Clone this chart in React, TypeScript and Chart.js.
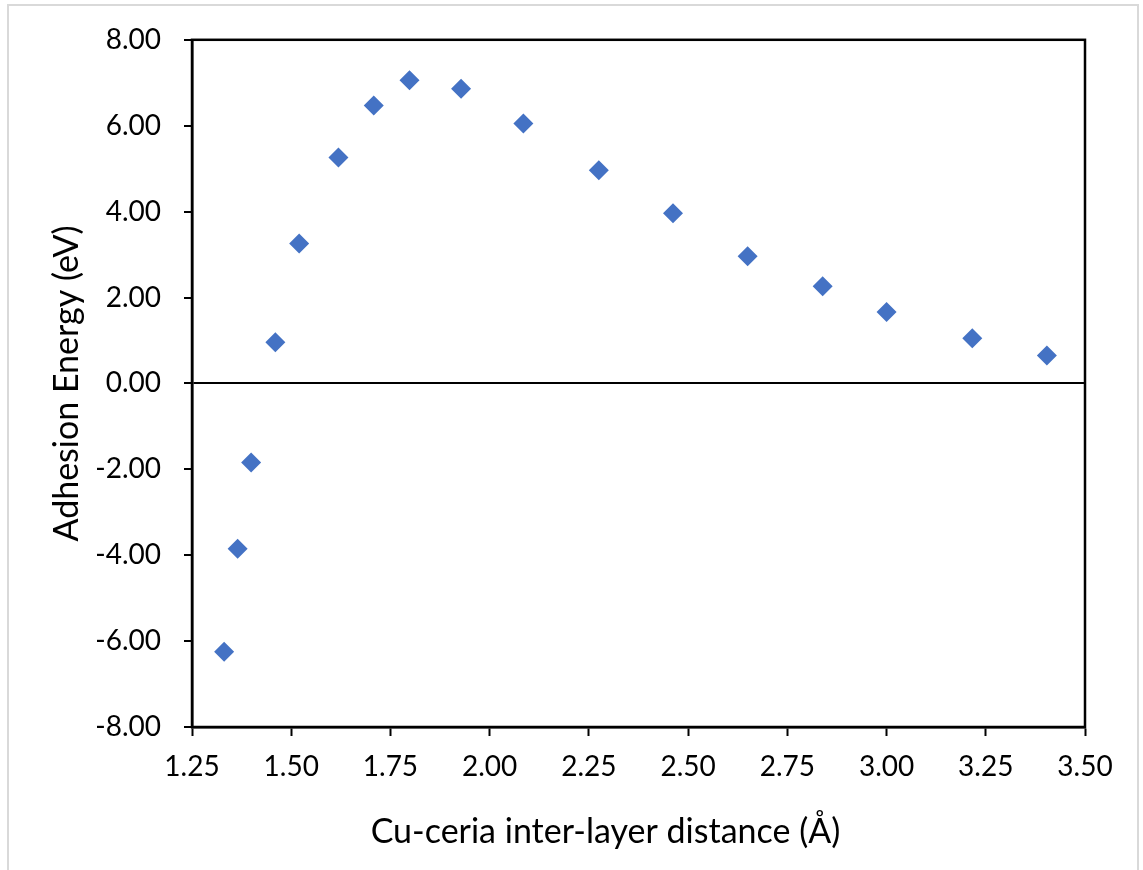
import React, { useEffect, useRef } from "react";
import { Chart, registerables } from "chart.js";

Chart.register(...registerables);

// Data
const distances = [1.331, 1.365, 1.399, 1.46, 1.52, 1.619, 1.708, 1.798, 1.928, 2.085, 2.275, 2.462, 2.65, 2.839, 3.0, 3.216, 3.404];
const energies = [-6.25, -3.85, -1.84, 0.96, 3.26, 5.26, 6.47, 7.06, 6.86, 6.05, 4.96, 3.96, 2.96, 2.26, 1.66, 1.05, 0.65];

const xTitle = "Cu-ceria inter-layer distance (Å)";
const yTitle = "Adhesion Energy (eV)";

const xMin = 1.25;
const xMax = 3.5;
const xStep = 0.25;
const yMin = -8;
const yMax = 8;
const yStep = 2;

const FONT = "Lato, 'Noto Sans', sans-serif";
const TICK_SIZE = 28;
const TITLE_SIZE = 34;

const framePlugin = {
  id: "frameAndXTitle",
  afterDraw(chart: any) {
    const { ctx, chartArea } = chart;
    const { left, right, top, bottom } = chartArea;
    ctx.save();
    ctx.strokeStyle = "#000";
    ctx.lineWidth = 2.5;
    ctx.strokeRect(left, top, right - left, bottom - top);
    ctx.fillStyle = "#000";
    ctx.font = `${TITLE_SIZE}px ${FONT}`;
    ctx.textAlign = "center";
    ctx.textBaseline = "alphabetic";
    ctx.fillText(xTitle, (left + right) / 2 - 33, bottom + 116);
    ctx.restore();
  },
};

export default function App() {
  const ref = useRef<HTMLCanvasElement>(null);

  useEffect(() => {
    if (!ref.current) return;
    const chart = new Chart(ref.current, {
      type: "scatter",
      data: {
        datasets: [
          {
            data: distances.map((x, i) => ({ x, y: energies[i] })),
            pointStyle: "rectRot",
            pointRadius: 10,
            pointHoverRadius: 10,
            backgroundColor: "#4472C4",
            borderColor: "#4472C4",
            borderWidth: 0,
          },
        ],
      },
      options: {
        responsive: false,
        animation: false,
        devicePixelRatio: 1,
        layout: { padding: { left: 47, top: 37, right: 58, bottom: 0 } },
        plugins: { legend: { display: false }, tooltip: { enabled: false } },
        scales: {
          x: {
            type: "linear",
            min: xMin,
            max: xMax,
            ticks: {
              stepSize: xStep,
              callback: (v: any) => Number(v).toFixed(2),
              font: { family: FONT, size: TICK_SIZE },
              color: "#000",
              padding: 14,
              maxRotation: 0,
            },
            grid: {
              drawOnChartArea: false,
              drawTicks: true,
              tickLength: 9,
              tickColor: "#000",
              tickWidth: 2,
            },
            border: { display: true, color: "#000", width: 2.5 },
            afterFit: (s: any) => {
              s.height = 143;
            },
          },
          y: {
            type: "linear",
            min: yMin,
            max: yMax,
            ticks: {
              stepSize: yStep,
              callback: (v: any) => Number(v).toFixed(2),
              font: { family: FONT, size: TICK_SIZE },
              color: "#000",
              padding: 23,
            },
            grid: {
              drawOnChartArea: true,
              color: (c: any) => (c.tick && c.tick.value === 0 ? "#000" : "rgba(0,0,0,0)"),
              lineWidth: 2,
              tickLength: 8,
              tickColor: "#000",
              tickWidth: 2,
            },
            border: { display: true, color: "#000", width: 2.5 },
            title: {
              display: true,
              text: yTitle,
              font: { family: FONT, size: TITLE_SIZE },
              color: "#000",
              padding: 0,
            },
            afterFit: (s: any) => {
              s.width = 145;
            },
          },
        },
      },
      plugins: [framePlugin],
    });
    return () => chart.destroy();
  }, []);

  return (
    <div style={{ position: "fixed", left: 0, top: 0, width: 1143, height: 870, overflow: "hidden", background: "#fff" }}>
      <div
        style={{
          position: "absolute",
          left: 7,
          top: 4,
          width: 1132,
          height: 870,
          boxSizing: "border-box",
          borderLeft: "2px solid #d9d9d9",
          borderTop: "2px solid #d9d9d9",
          borderRight: "2px solid #d9d9d9",
        }}
      />
      <canvas ref={ref} width={1143} height={870} style={{ position: "absolute", left: 0, top: 0, width: 1143, height: 870 }} />
    </div>
  );
}
